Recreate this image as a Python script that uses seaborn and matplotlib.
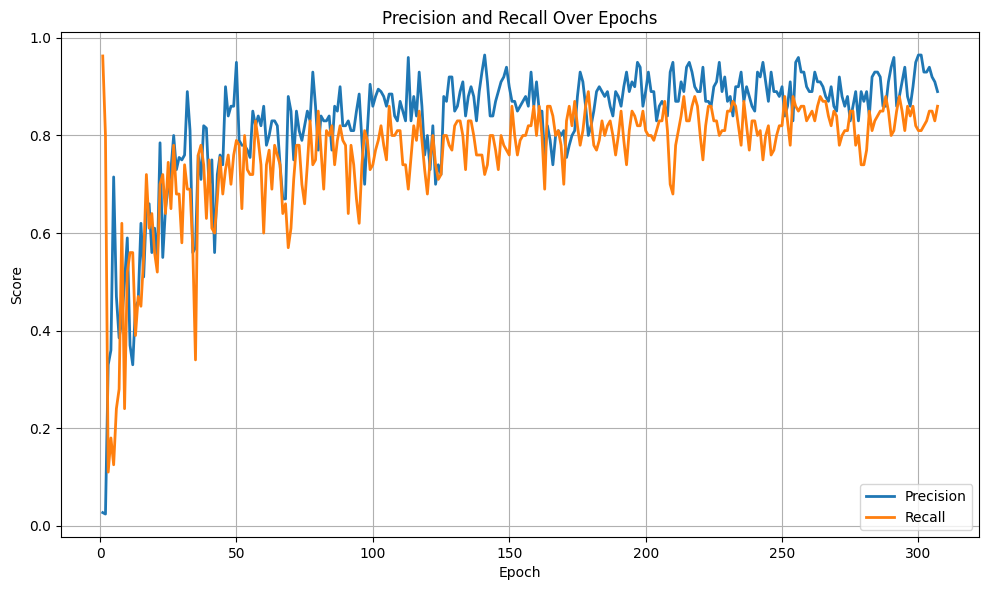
import numpy as np
import pandas as pd
import seaborn as sns
import matplotlib.pyplot as plt

# valores (epocas 1..307)
precision = [
    0.027, 0.024, 0.33, 0.36, 0.715, 0.47, 0.385, 0.42, 0.50, 0.59,
    0.37, 0.33, 0.45, 0.46, 0.62, 0.51, 0.65, 0.66, 0.56, 0.61,
    0.54, 0.785, 0.55, 0.65, 0.695, 0.73, 0.80, 0.73, 0.755, 0.75,
    0.76, 0.89, 0.81, 0.56, 0.57, 0.76, 0.71, 0.82, 0.815, 0.69,
    0.75, 0.56, 0.72, 0.76, 0.74, 0.90, 0.84, 0.86, 0.86, 0.95,
    0.79, 0.78, 0.78, 0.77, 0.755, 0.85, 0.82, 0.84, 0.82, 0.86,
    0.78, 0.80, 0.83, 0.83, 0.82, 0.74, 0.67, 0.67, 0.88, 0.85,
    0.75, 0.85, 0.81, 0.79, 0.82, 0.85, 0.83, 0.93, 0.86, 0.77,
    0.84, 0.83, 0.83, 0.84, 0.77, 0.86, 0.85, 0.90, 0.82, 0.82,
    0.83, 0.81, 0.81, 0.85, 0.885, 0.79, 0.70, 0.81, 0.905, 0.86,
    0.88, 0.895, 0.89, 0.88, 0.86, 0.885, 0.885, 0.84, 0.83, 0.87,
    0.85, 0.83, 0.96, 0.83, 0.88, 0.84, 0.93, 0.86, 0.76, 0.80,
    0.73, 0.82, 0.70, 0.74, 0.72, 0.88, 0.87, 0.92, 0.92, 0.85,
    0.86, 0.89, 0.91, 0.84, 0.88, 0.90, 0.88, 0.83, 0.89, 0.93,
    0.965, 0.91, 0.84, 0.84, 0.87, 0.89, 0.91, 0.92, 0.94, 0.90,
    0.87, 0.87, 0.85, 0.86, 0.87, 0.88, 0.86, 0.93, 0.86, 0.91,
    0.85, 0.85, 0.755, 0.82, 0.79, 0.74, 0.80, 0.81, 0.80, 0.81,
    0.755, 0.78, 0.80, 0.81, 0.88, 0.93, 0.91, 0.86, 0.80, 0.82,
    0.85, 0.89, 0.90, 0.89, 0.88, 0.89, 0.86, 0.84, 0.89, 0.88,
    0.86, 0.90, 0.93, 0.89, 0.91, 0.90, 0.95, 0.94, 0.86, 0.89,
    0.93, 0.89, 0.89, 0.83, 0.86, 0.87, 0.86, 0.84, 0.93, 0.95,
    0.87, 0.87, 0.91, 0.89, 0.94, 0.95, 0.93, 0.90, 0.89, 0.89,
    0.94, 0.87, 0.87, 0.86, 0.90, 0.91, 0.95, 0.89, 0.92, 0.87,
    0.88, 0.84, 0.90, 0.90, 0.93, 0.87, 0.90, 0.88, 0.86, 0.85,
    0.93, 0.92, 0.95, 0.91, 0.87, 0.93, 0.89, 0.89, 0.88, 0.90,
    0.84, 0.86, 0.91, 0.83, 0.95, 0.96, 0.93, 0.93, 0.90, 0.89,
    0.89, 0.93, 0.91, 0.91, 0.90, 0.88, 0.87, 0.90, 0.86, 0.85,
    0.92, 0.88, 0.86, 0.88, 0.83, 0.86, 0.89, 0.83, 0.89, 0.87,
    0.89, 0.84, 0.92, 0.93, 0.93, 0.92, 0.86, 0.86, 0.91, 0.94,
    0.96, 0.86, 0.88, 0.91, 0.94, 0.88, 0.86, 0.90, 0.95, 0.965,
    0.965, 0.93, 0.93, 0.94, 0.92, 0.91, 0.89,
]

recall = [
    0.963, 0.80, 0.11, 0.18, 0.125, 0.24, 0.28, 0.62, 0.24, 0.52,
    0.56, 0.56, 0.39, 0.47, 0.45, 0.55, 0.72, 0.61, 0.64, 0.56,
    0.52, 0.70, 0.72, 0.64, 0.745, 0.65, 0.78, 0.68, 0.68, 0.58,
    0.74, 0.69, 0.69, 0.57, 0.34, 0.76, 0.78, 0.74, 0.63, 0.75,
    0.61, 0.60, 0.67, 0.755, 0.68, 0.73, 0.76, 0.70, 0.76, 0.79,
    0.78, 0.65, 0.80, 0.73, 0.72, 0.72, 0.83, 0.79, 0.74, 0.60,
    0.74, 0.77, 0.69, 0.78, 0.76, 0.74, 0.64, 0.66, 0.57, 0.61,
    0.71, 0.78, 0.78, 0.70, 0.66, 0.74, 0.83, 0.74, 0.75, 0.85,
    0.77, 0.69, 0.81, 0.80, 0.82, 0.74, 0.79, 0.82, 0.79, 0.78,
    0.64, 0.78, 0.74, 0.67, 0.62, 0.74, 0.81, 0.79, 0.73, 0.74,
    0.77, 0.79, 0.82, 0.78, 0.75, 0.86, 0.80, 0.80, 0.81, 0.81,
    0.74, 0.74, 0.69, 0.755, 0.82, 0.79, 0.85, 0.79, 0.73, 0.68,
    0.75, 0.80, 0.74, 0.71, 0.72, 0.80, 0.80, 0.78, 0.77, 0.82,
    0.83, 0.83, 0.80, 0.73, 0.83, 0.83, 0.80, 0.76, 0.76, 0.76,
    0.72, 0.74, 0.80, 0.80, 0.77, 0.73, 0.80, 0.78, 0.77, 0.76,
    0.86, 0.80, 0.76, 0.79, 0.80, 0.80, 0.82, 0.82, 0.86, 0.80,
    0.86, 0.80, 0.69, 0.86, 0.86, 0.84, 0.80, 0.81, 0.78, 0.70,
    0.83, 0.86, 0.82, 0.87, 0.82, 0.78, 0.81, 0.86, 0.89, 0.83,
    0.78, 0.77, 0.79, 0.83, 0.80, 0.82, 0.83, 0.80, 0.76, 0.80,
    0.85, 0.79, 0.74, 0.81, 0.85, 0.84, 0.82, 0.82, 0.85, 0.81,
    0.80, 0.80, 0.79, 0.81, 0.83, 0.83, 0.87, 0.81, 0.70, 0.68,
    0.78, 0.81, 0.84, 0.88, 0.83, 0.83, 0.86, 0.88, 0.86, 0.80,
    0.75, 0.82, 0.86, 0.86, 0.83, 0.83, 0.80, 0.81, 0.81, 0.85,
    0.85, 0.87, 0.86, 0.82, 0.78, 0.87, 0.82, 0.77, 0.83, 0.83,
    0.80, 0.81, 0.75, 0.80, 0.82, 0.76, 0.77, 0.80, 0.82, 0.82,
    0.88, 0.83, 0.78, 0.88, 0.86, 0.85, 0.86, 0.86, 0.83, 0.84,
    0.85, 0.83, 0.86, 0.88, 0.87, 0.87, 0.84, 0.82, 0.85, 0.84,
    0.78, 0.80, 0.81, 0.81, 0.85, 0.85, 0.78, 0.80, 0.74, 0.74,
    0.77, 0.85, 0.81, 0.83, 0.84, 0.85, 0.85, 0.88, 0.85, 0.80,
    0.81, 0.85, 0.88, 0.85, 0.81, 0.86, 0.84, 0.86, 0.82, 0.81,
    0.81, 0.82, 0.83, 0.85, 0.85, 0.83, 0.86,
]

epochs = list(range(1, len(precision) + 1))

# monta a tabela no formato longo pro seaborn
df = pd.DataFrame({"Epoch": epochs, "Precision": precision, "Recall": recall})
dfl = df.melt(id_vars="Epoch", var_name="Metric", value_name="Score")

fig = plt.figure(figsize=(9.89, 5.9), dpi=100)
ax = sns.lineplot(data=dfl, x="Epoch", y="Score", hue="Metric",
                  palette=["#1f77b4", "#ff7f0e"], linewidth=2)
ax.legend(loc="lower right")
ax.set_title("Precision and Recall Over Epochs")
ax.set_xlabel("Epoch")
ax.set_ylabel("Score")
ax.grid(True)
plt.tight_layout(pad=0.7)
plt.savefig("out.png")
